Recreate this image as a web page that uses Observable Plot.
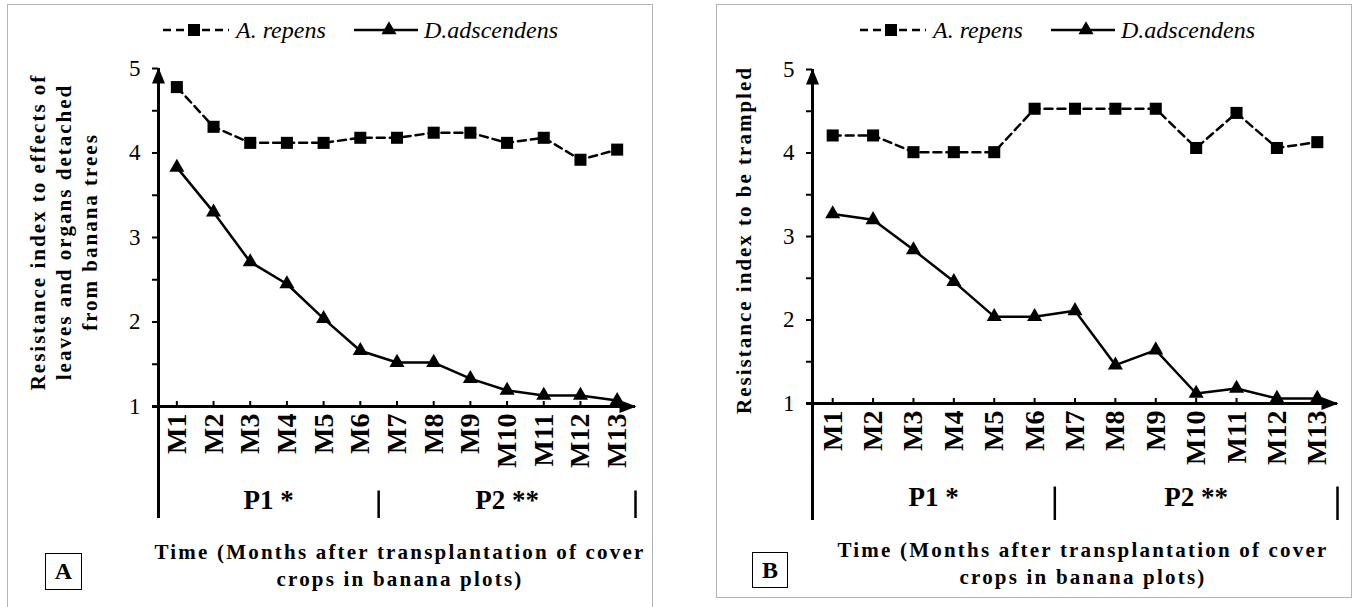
<!DOCTYPE html>
<html>
<head>
<meta charset="utf-8">
<script src="https://cdn.jsdelivr.net/npm/d3@7"></script>
<script src="https://cdn.jsdelivr.net/npm/@observablehq/plot@0.6"></script>
<style>
  body { margin: 0; background: #fff; }
  #root { position: relative; width: 1357px; height: 607px; overflow: hidden; background: #fff;
          font-family: "Liberation Serif", "Times New Roman", serif; color: #000; }
  .panel { position: absolute; border: 1.5px solid #b4b4b4; box-sizing: border-box; }
  .plotbox { position: absolute; top: 0; }
  .plotbox svg, .plotbox svg text { font-family: "Liberation Serif", "Times New Roman", serif !important; }
  .ylab { position: absolute; transform: translate(-50%, -50%) rotate(-90deg); white-space: nowrap;
          font-weight: bold; font-size: 21px; letter-spacing: 2px; line-height: 26px; text-align: center; }
  .xtitle { position: absolute; transform: translateX(-50%); white-space: nowrap; font-weight: bold;
            font-size: 21px; letter-spacing: 2.2px; line-height: 27px; text-align: center; }
  .tag { position: absolute; border: 1.5px solid #000; box-sizing: border-box; font-weight: bold;
         font-size: 24px; display: flex; align-items: center; justify-content: center; }
  .legend text { font-family: "Liberation Serif", "Times New Roman", serif; }
</style>
</head>
<body>
<div id="root"></div>
<script>
// ---------------- data ----------------
const months = ["M1","M2","M3","M4","M5","M6","M7","M8","M9","M10","M11","M12","M13"];
const periods = [
  { label: "P1 *",  months: ["M1","M2","M3","M4","M5","M6"] },
  { label: "P2 **", months: ["M7","M8","M9","M10","M11","M12","M13"] }
];
const seriesNames = ["A. repens", "D.adscendens"];

// Panel A: resistance to leaves and organs detached from banana trees
const leavesRepens     = [4.78, 4.31, 4.12, 4.12, 4.12, 4.18, 4.18, 4.24, 4.24, 4.12, 4.18, 3.92, 4.04];
const leavesAdscendens = [3.83, 3.30, 2.71, 2.45, 2.04, 1.66, 1.52, 1.52, 1.33, 1.19, 1.13, 1.13, 1.07];
// Panel B: resistance to be trampled
const trampledRepens     = [4.21, 4.21, 4.01, 4.01, 4.01, 4.53, 4.53, 4.53, 4.53, 4.06, 4.48, 4.06, 4.13];
const trampledAdscendens = [3.27, 3.20, 2.84, 2.46, 2.04, 2.04, 2.11, 1.46, 1.64, 1.12, 1.18, 1.06, 1.06];

const yTicks = [1, 2, 3, 4, 5];
const yMinorTicks = [1.5, 2.5, 3.5, 4.5];

const yTitleA = ["Resistance index to effects of", "leaves and organs detached", "from banana trees"];
const yTitleB = ["Resistance index to be trampled"];
const xTitle = ["Time (Months after transplantation of cover", "crops in banana plots)"];

// ---------------- layout ----------------
const FONT = '"Liberation Serif", "Times New Roman", serif';
const root = document.getElementById("root");

const arrowUp = { draw(ctx) { ctx.moveTo(0, -1); ctx.lineTo(6.5, 15); ctx.lineTo(-6.5, 15); ctx.closePath(); } };
const arrowRight = { draw(ctx) { ctx.moveTo(1, 0); ctx.lineTo(-16, -6.5); ctx.lineTo(-16, 6.5); ctx.closePath(); } };

const panels = [
  { tag: "A", svgLeft: 0, svgWidth: 680, frame: { x0: 158, x1: 635, y0: 68, y1: 406 }, bracket: 112,
    repens: leavesRepens, adsc: leavesAdscendens,
    border: { left: 7, top: 4, width: 646, height: 620 },
    yTitle: yTitleA, yTitlePos: { x: 64, y: 232 },
    legendLeft: 163, titleX: 400, titleTop: 539, tagBox: { left: 45, top: 553, size: 37 } },
  { tag: "B", svgLeft: 680, svgWidth: 677, frame: { x0: 132, x1: 657, y0: 69, y1: 403 }, bracket: 117,
    repens: trampledRepens, adsc: trampledAdscendens,
    border: { left: 716, top: 4, width: 636, height: 594 },
    yTitle: yTitleB, yTitlePos: { x: 744, y: 240 },
    legendLeft: 860, titleX: 1083, titleTop: 537, tagBox: { left: 752, top: 552, size: 36 } }
];

function el(tag, cls, style, html) {
  const d = document.createElement(tag);
  if (cls) d.className = cls;
  Object.assign(d.style, style || {});
  if (html != null) d.innerHTML = html;
  root.appendChild(d);
  return d;
}

function buildLegend(left) {
  const svg = d3.create("svg").attr("class", "legend").attr("width", 420).attr("height", 30)
    .style("position", "absolute").style("left", left + "px").style("top", "15px").style("overflow", "visible");
  const cy = 15;
  svg.append("line").attr("x1", 0).attr("x2", 66).attr("y1", cy).attr("y2", cy)
    .attr("stroke", "#000").attr("stroke-width", 2.5).attr("stroke-dasharray", "8,5");
  svg.append("path").attr("d", d3.symbol(d3.symbolSquare, 6.8 * 6.8 * Math.PI)())
    .attr("transform", `translate(31,${cy})`).attr("fill", "#000");
  svg.append("text").attr("x", 73).attr("y", cy).attr("dy", "0.35em").text(seriesNames[0])
    .attr("font-style", "italic").attr("font-size", 24);
  svg.append("line").attr("x1", 191).attr("x2", 255).attr("y1", cy).attr("y2", cy)
    .attr("stroke", "#000").attr("stroke-width", 2.5);
  svg.append("path").attr("d", d3.symbol(d3.symbolTriangle, 5.6 * 5.6 * Math.PI)())
    .attr("transform", `translate(226,${cy})`).attr("fill", "#000");
  svg.append("text").attr("x", 261).attr("y", cy).attr("dy", "0.35em").text(seriesNames[1])
    .attr("font-style", "italic").attr("font-size", 24);
  root.appendChild(svg.node());
}

for (const p of panels) {
  el("div", "panel", { left: p.border.left + "px", top: p.border.top + "px",
                       width: p.border.width + "px", height: p.border.height + "px" });

  const rowsRepens = months.map((m, i) => ({ month: m, i: i + 1, series: seriesNames[0], value: p.repens[i] }));
  const rowsAdsc = months.map((m, i) => ({ month: m, i: i + 1, series: seriesNames[1], value: p.adsc[i] }));
  const monthIdx = months.map((m, i) => i + 1);
  const xDomain = [0.5, months.length + 0.5];
  const yDomain = [d3.min(yTicks), d3.max(yTicks)];
  const separators = [...periods.slice(1).map(q => months.indexOf(q.months[0]) + 0.5), xDomain[1]];
  const periodRows = periods.map(q => ({ label: q.label,
    mid: (months.indexOf(q.months[0]) + months.indexOf(q.months[q.months.length - 1])) / 2 + 1 }));

  const H = 607;
  const chart = Plot.plot({
    width: p.svgWidth, height: H,
    marginLeft: p.frame.x0, marginRight: p.svgWidth - p.frame.x1,
    marginTop: p.frame.y0, marginBottom: H - p.frame.y1,
    style: { fontFamily: FONT, color: "#000", background: "transparent", overflow: "visible" },
    x: { domain: xDomain },
    y: { domain: yDomain },
    marks: [
      Plot.axisY({ ticks: yMinorTicks, tickSize: 6, tickFormat: () => "", strokeWidth: 2, label: null }),
      Plot.axisY({ ticks: yTicks, tickSize: 6, tickPadding: 12, tickFormat: d3.format("d"),
                   fontSize: 23, fontFamily: FONT, strokeWidth: 2, label: null }),
      Plot.axisX({ ticks: monthIdx, tickSize: 5, dy: -5, tickFormat: () => "", strokeWidth: 2, label: null }),
      Plot.axisX({ ticks: monthIdx, tickSize: 0, tickPadding: 7, tickRotate: -90,
                   tickFormat: i => months[i - 1], fontSize: 28, fontFamily: FONT, fontWeight: "bold", label: null }),
      Plot.ruleX([xDomain[0]], { x: d => d, stroke: "#000", strokeWidth: 3, insetBottom: -p.bracket }),
      Plot.ruleX(separators, { x: d => d, y1: yDomain[0], stroke: "#000", strokeWidth: 2.5, insetBottom: -p.bracket }),
      Plot.ruleY([yDomain[0]], { y: d => d, stroke: "#000", strokeWidth: 3, insetLeft: -6 }),
      Plot.dot([xDomain[0]], { x: d => d, y: yDomain[1], symbol: arrowUp, fill: "#000", stroke: null }),
      Plot.dot([xDomain[1]], { x: d => d, y: yDomain[0], symbol: arrowRight, fill: "#000", stroke: null }),
      Plot.text(periodRows, { x: "mid", y: yDomain[0], dy: 94, text: "label", fontSize: 27,
                              fontFamily: FONT, fontWeight: "bold" }),
      Plot.line(rowsRepens, { x: "i", y: "value", stroke: "#000", strokeWidth: 2.5, strokeDasharray: "8,5" }),
      Plot.line(rowsAdsc, { x: "i", y: "value", stroke: "#000", strokeWidth: 2.5 }),
      Plot.dot(rowsRepens, { x: "i", y: "value", symbol: "square", r: 6.8, fill: "#000", stroke: null }),
      Plot.dot(rowsAdsc, { x: "i", y: "value", symbol: "triangle", r: 5.6, fill: "#000", stroke: null })
    ]
  });
  const box = el("div", "plotbox", { left: p.svgLeft + "px" });
  box.appendChild(chart);

  el("div", "ylab", { left: p.yTitlePos.x + "px", top: p.yTitlePos.y + "px" }, p.yTitle.join("<br>"));
  el("div", "xtitle", { left: p.titleX + "px", top: p.titleTop + "px" }, xTitle.join("<br>"));
  el("div", "tag", { left: p.tagBox.left + "px", top: p.tagBox.top + "px",
                     width: p.tagBox.size + "px", height: p.tagBox.size + "px" }, p.tag);
  buildLegend(p.legendLeft);
}
</script>
</body>
</html>
